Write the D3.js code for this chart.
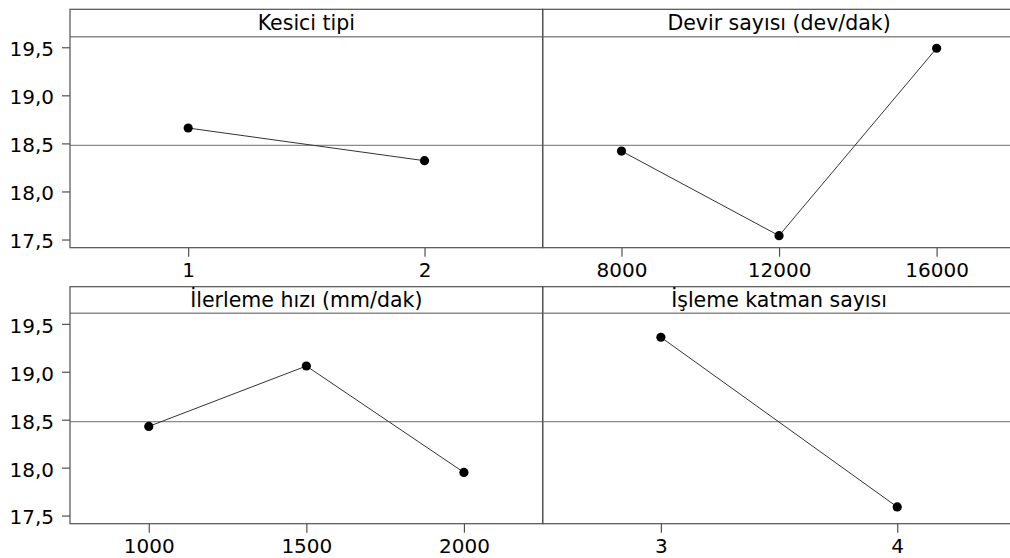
<!DOCTYPE html>
<html>
<head>
<meta charset="utf-8">
<script src="https://cdn.jsdelivr.net/npm/d3@7"></script>
<style>
  html, body { margin: 0; padding: 0; background: #fff; }
  svg { display: block; }
  text { font-family: "DejaVu Sans", Verdana, sans-serif; fill: #000; }
</style>
</head>
<body>
<svg id="chart" width="1010" height="558"></svg>
<script>
// Main effects plot: mean response per factor level
const panelTitles = ["Kesici tipi", "Devir sayısı (dev/dak)", "İlerleme hızı (mm/dak)", "İşleme katman sayısı"];

const kesiciLevels = ["1", "2"];
const kesiciMeans = [18.66, 18.32];

const devirLevels = ["8000", "12000", "16000"];
const devirMeans = [18.42, 17.54, 19.49];

const ilerlemeLevels = ["1000", "1500", "2000"];
const ilerlemeMeans = [18.43, 19.06, 17.95];

const katmanLevels = ["3", "4"];
const katmanMeans = [19.36, 17.59];

const grandMean = 18.48;

const yTickValues = [17.5, 18.0, 18.5, 19.0, 19.5];
const yTickLabels = ["17,5", "18,0", "18,5", "19,0", "19,5"];

const panels = [
  { title: panelTitles[0], levels: kesiciLevels, means: kesiciMeans },
  { title: panelTitles[1], levels: devirLevels, means: devirMeans },
  { title: panelTitles[2], levels: ilerlemeLevels, means: ilerlemeMeans },
  { title: panelTitles[3], levels: katmanLevels, means: katmanMeans }
];

// Grid layout
const colX = [70, 542.7, 1015.4];
const rows = [
  { top: 9.3, head: 36.7, bottom: 247.7 },
  { top: 286.7, head: 313.3, bottom: 523.7 }
];
const yDomain = [17.415, 19.61];

const frameColor = "#505050";
const headColor = "#8a8a8a";
const tickFont = 20;
const titleFont = 20.5;

const svg = d3.select("#chart");

panels.forEach((p, i) => {
  const col = i % 2, row = Math.floor(i / 2);
  const x0 = colX[col], x1 = colX[col + 1];
  const r = rows[row];
  const g = svg.append("g");

  const x = d3.scalePoint().domain(p.levels).range([x0, x1]).padding(0.5);
  const y = d3.scaleLinear().domain(yDomain).range([r.bottom, r.head]);

  // Grand mean reference line
  g.append("line")
    .attr("x1", x0).attr("x2", x1)
    .attr("y1", y(grandMean)).attr("y2", y(grandMean))
    .attr("stroke", headColor).attr("stroke-width", 1.3);

  // Header band separator
  g.append("line")
    .attr("x1", x0).attr("x2", x1)
    .attr("y1", r.head).attr("y2", r.head)
    .attr("stroke", headColor).attr("stroke-width", 1.4);

  // Panel frame
  g.append("rect")
    .attr("x", x0).attr("y", r.top)
    .attr("width", x1 - x0).attr("height", r.bottom - r.top)
    .attr("fill", "none").attr("stroke", frameColor).attr("stroke-width", 1.2);

  // Header title
  g.append("text")
    .attr("x", (x0 + x1) / 2).attr("y", r.head - 6.8)
    .attr("text-anchor", "middle")
    .style("font-size", titleFont + "px")
    .text(p.title);

  // X axis
  const xAxis = g.append("g")
    .attr("transform", `translate(0,${r.bottom})`)
    .call(d3.axisBottom(x).tickSize(9).tickPadding(6));
  xAxis.select(".domain").remove();
  xAxis.selectAll(".tick line").attr("stroke", frameColor).attr("stroke-width", 1.2);
  xAxis.selectAll(".tick text")
    .attr("fill", "#000")
    .style("font-size", tickFont + "px")
    .style("font-family", '"DejaVu Sans", Verdana, sans-serif');

  // Y axis on the left column
  if (col === 0) {
    const yAxis = g.append("g")
      .attr("transform", `translate(${x0},0)`)
      .call(d3.axisLeft(y).tickValues(yTickValues)
        .tickFormat((d, k) => yTickLabels[k]).tickSize(8).tickPadding(8));
    yAxis.select(".domain").remove();
    yAxis.selectAll(".tick line").attr("stroke", frameColor).attr("stroke-width", 1.2);
    yAxis.selectAll(".tick text")
      .attr("fill", "#000")
      .attr("dy", "0.42em")
      .style("font-size", tickFont + "px")
      .style("font-family", '"DejaVu Sans", Verdana, sans-serif');
  }

  // Mean line and points
  const pts = p.levels.map((lv, k) => ({ lv, v: p.means[k] }));
  g.append("path")
    .datum(pts)
    .attr("fill", "none")
    .attr("stroke", "#333")
    .attr("stroke-width", 1)
    .attr("d", d3.line().x(d => x(d.lv)).y(d => y(d.v)));

  g.selectAll("circle.pt")
    .data(pts)
    .join("circle")
    .attr("class", "pt")
    .attr("cx", d => x(d.lv))
    .attr("cy", d => y(d.v))
    .attr("r", 4.6)
    .attr("fill", "#000");
});
</script>
</body>
</html>
